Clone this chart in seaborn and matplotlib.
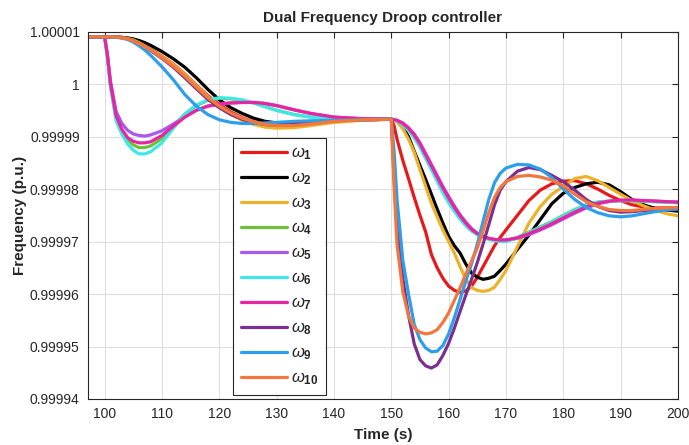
import matplotlib
matplotlib.use("Agg")
import matplotlib.pyplot as plt
import numpy as np
import pandas as pd
import seaborn as sns

# time axis (s)
time = [97, 100, 100.5, 101, 102, 103, 104, 105, 106, 107, 108, 110, 112, 114, 116, 118,
        120, 122, 124, 126, 128, 130, 133, 136, 140, 145,
        150, 150.5, 151, 152, 153, 154, 155, 156, 157, 158, 159, 160, 161, 162, 163, 164,
        165, 166, 167, 168, 169, 170, 172, 174, 176, 178, 180, 182, 184, 186, 188, 190,
        192, 194, 196, 198, 200]

# frequency deviation from 1 p.u., in units of 1e-5 p.u.
w1 = [.9, .9, .9, .9, .9, .89, .87, .84, .8, .74, .67, .53, .38, .19, -.02, -.22,
      -.39, -.53, -.64, -.72, -.77, -.79, -.79, -.76, -.71, -.68,
      -.67, -.8, -1.05, -1.45, -1.8, -2.16, -2.5, -2.82, -3.25, -3.5, -3.7, -3.85, -3.93, -3.97, -3.94, -3.85,
      -3.68, -3.48, -3.28, -3.08, -2.92, -2.78, -2.5, -2.22, -2.02, -1.9, -1.85, -1.84, -1.9, -2.0, -2.12, -2.22,
      -2.3, -2.34, -2.36, -2.36, -2.35]
w2 = [.9, .9, .9, .9, .9, .89, .88, .86, .83, .79, .74, .62, .48, .32, .12, -.1,
      -.3, -.45, -.56, -.65, -.71, -.74, -.75, -.73, -.7, -.68,
      -.67, -.68, -.7, -.82, -1.0, -1.28, -1.55, -1.82, -2.1, -2.38, -2.65, -2.9, -3.08, -3.22, -3.43, -3.6,
      -3.68, -3.72, -3.7, -3.66, -3.55, -3.43, -3.15, -2.88, -2.58, -2.28, -2.08, -1.97, -1.9, -1.87, -1.92, -2.05,
      -2.2, -2.3, -2.37, -2.4, -2.42]
w3 = [.9, .9, .9, .9, .9, .89, .87, .84, .79, .73, .66, .52, .37, .18, -.03, -.24,
      -.42, -.57, -.69, -.77, -.82, -.84, -.83, -.79, -.73, -.69,
      -.67, -.68, -.72, -.85, -1.05, -1.3, -1.63, -1.95, -2.27, -2.53, -2.78, -3.0, -3.22, -3.48, -3.72, -3.88,
      -3.93, -3.95, -3.93, -3.87, -3.72, -3.55, -3.1, -2.65, -2.33, -2.1, -1.95, -1.8, -1.76, -1.84, -1.97, -2.1,
      -2.22, -2.32, -2.4, -2.47, -2.51]
w4 = [.9, .9, .52, 0, -.65, -.9, -1.06, -1.16, -1.21, -1.21, -1.18, -1.04, -.8, -.57, -.41, -.31,
      -.27, -.28, -.31, -.36, -.43, -.5, -.58, -.63, -.66, -.67,
      -.67, -.68, -.7, -.77, -.87, -1.0, -1.18, -1.4, -1.61, -1.83, -2.05, -2.24, -2.41, -2.56, -2.69, -2.79,
      -2.86, -2.91, -2.95, -2.97, -2.99, -2.99, -2.92, -2.82, -2.72, -2.62, -2.5, -2.39, -2.3, -2.25, -2.23, -2.22,
      -2.22, -2.23, -2.24, -2.25, -2.26]
w5 = [.9, .9, .56, .07, -.52, -.75, -.88, -.95, -.98, -.99, -.97, -.89, -.76, -.62, -.5, -.42,
      -.38, -.36, -.35, -.35, -.37, -.41, -.49, -.56, -.63, -.66,
      -.67, -.68, -.69, -.74, -.83, -.95, -1.12, -1.32, -1.53, -1.74, -1.95, -2.14, -2.32, -2.49, -2.63, -2.75,
      -2.84, -2.9, -2.94, -2.96, -2.97, -2.97, -2.94, -2.87, -2.78, -2.68, -2.57, -2.46, -2.36, -2.28, -2.24, -2.22,
      -2.21, -2.22, -2.23, -2.24, -2.25]
w6 = [.9, .9, .5, -.05, -.7, -.95, -1.14, -1.26, -1.33, -1.33, -1.29, -1.12, -.84, -.57, -.4, -.3,
      -.26, -.27, -.3, -.36, -.43, -.5, -.58, -.63, -.66, -.67,
      -.67, -.68, -.7, -.78, -.88, -1.02, -1.2, -1.42, -1.63, -1.85, -2.07, -2.26, -2.42, -2.57, -2.7, -2.8,
      -2.87, -2.92, -2.96, -2.98, -3.0, -3.0, -2.93, -2.83, -2.73, -2.63, -2.51, -2.4, -2.3, -2.25, -2.23, -2.22,
      -2.22, -2.23, -2.24, -2.25, -2.26]
w7 = [.9, .9, .54, .03, -.6, -.86, -1.02, -1.09, -1.12, -1.12, -1.1, -.98, -.8, -.63, -.5, -.42,
      -.38, -.36, -.35, -.35, -.37, -.41, -.49, -.56, -.63, -.66,
      -.67, -.68, -.69, -.75, -.84, -.97, -1.14, -1.35, -1.56, -1.77, -1.98, -2.17, -2.35, -2.51, -2.65, -2.77,
      -2.85, -2.9, -2.94, -2.96, -2.97, -2.97, -2.93, -2.85, -2.76, -2.66, -2.55, -2.44, -2.34, -2.27, -2.23, -2.21,
      -2.21, -2.22, -2.23, -2.24, -2.25]
w8 = [.9, .9, .9, .9, .9, .88, .86, .82, .77, .71, .64, .49, .32, .12, -.09, -.29,
      -.45, -.58, -.67, -.73, -.77, -.78, -.77, -.74, -.7, -.68,
      -.67, -1.8, -2.75, -3.7, -4.4, -4.95, -5.25, -5.37, -5.41, -5.35, -5.17, -4.94, -4.65, -4.33, -4.02, -3.72,
      -3.4, -3.05, -2.68, -2.3, -2.02, -1.86, -1.66, -1.59, -1.63, -1.74, -1.86, -2.02, -2.2, -2.33, -2.41, -2.44,
      -2.43, -2.41, -2.4, -2.39, -2.38]
w9 = [.9, .9, .9, .9, .89, .88, .85, .8, .73, .65, .55, .33, .08, -.2, -.42, -.58,
      -.68, -.73, -.75, -.75, -.74, -.73, -.71, -.7, -.69, -.68,
      -.67, -1.3, -2.2, -3.35, -4.0, -4.58, -4.87, -5.03, -5.1, -5.09, -4.98, -4.76, -4.45, -4.1, -3.75, -3.42,
      -3.05, -2.62, -2.2, -1.88, -1.7, -1.6, -1.53, -1.54, -1.62, -1.78, -2.0, -2.2, -2.35, -2.45, -2.51, -2.53,
      -2.51, -2.47, -2.43, -2.4, -2.38]
w10 = [.9, .9, .9, .9, .9, .88, .86, .82, .77, .71, .65, .5, .34, .15, -.06, -.26,
       -.42, -.55, -.65, -.72, -.77, -.79, -.79, -.76, -.71, -.68,
       -.67, -2.0, -3.05, -3.95, -4.42, -4.65, -4.73, -4.76, -4.74, -4.68, -4.54, -4.36, -4.12, -3.88, -3.62, -3.37,
       -3.12, -2.8, -2.45, -2.16, -1.97, -1.86, -1.76, -1.74, -1.77, -1.83, -1.94, -2.1, -2.24, -2.33, -2.39, -2.41,
       -2.41, -2.39, -2.37, -2.36, -2.35]

series = [w1, w2, w3, w4, w5, w6, w7, w8, w9, w10]
labels = [r'$\omega_{\mathbf{%d}}$' % i for i in range(1, 11)]
colors = ['#E8191B', '#000000', '#EDB12A', '#6CC13A', '#A957F0',
          '#3EE8E6', '#E626A0', '#7B2F8E', '#2C9EEC', '#F0783F']

yticks = [0.99994, 0.99995, 0.99996, 0.99997, 0.99998, 0.99999, 1.0, 1.00001]
ytick_labels = ['0.99994', '0.99995', '0.99996', '0.99997', '0.99998', '0.99999', '1', '1.00001']
xticks = [100, 110, 120, 130, 140, 150, 160, 170, 180, 190, 200]

rows = []
for lab, dev in zip(labels, series):
    for t, d in zip(time, dev):
        rows.append([t, 1.0 + d * 1e-5, lab])
data = pd.DataFrame(rows, columns=['time', 'freq', 'key'])

sns.set_theme(style="whitegrid")
plt.rcParams['font.family'] = ['Liberation Sans', 'DejaVu Sans']
plt.rcParams['mathtext.fontset'] = 'custom'
plt.rcParams['mathtext.it'] = 'Liberation Sans:italic'
plt.rcParams['mathtext.bf'] = 'Liberation Sans:bold'
plt.rcParams['mathtext.rm'] = 'Liberation Sans'

fig = plt.figure(figsize=(6.89, 4.45), dpi=100)
ax = fig.add_axes([0.1277, 0.1034, 0.8563, 0.8256])

sns.lineplot(data=data, x='time', y='freq', hue='key', palette=colors,
             linewidth=2.3, estimator=None, sort=False, legend=False, ax=ax)

ax.set_xlim(97.1, 200)
ax.set_ylim(0.99994, 1.00001)
ax.set_xticks(xticks)
ax.set_yticks(yticks)
ax.set_yticklabels(ytick_labels)
ax.grid(True, color='#dedede', linewidth=0.8)
for s in ax.spines.values():
    s.set_color('#262626')
    s.set_linewidth(0.8)
ax.tick_params(direction='in', length=4, width=0.8, color='#262626',
               top=True, right=True, labelsize=10, labelcolor='#262626', pad=6)

ax.set_title('Dual Frequency Droop controller', fontsize=11, fontweight='bold', pad=7)
ax.set_xlabel('Time (s)', fontsize=11, fontweight='bold', labelpad=5)
ax.set_ylabel('Frequency (p.u.)', fontsize=11, fontweight='bold', labelpad=2)

leg = ax.legend(ax.get_lines()[:10], labels, loc='lower left',
                bbox_to_anchor=(0.2458, 0.011), fontsize=12, frameon=True,
                fancybox=False, framealpha=1, edgecolor='#262626',
                handlelength=2.8, handletextpad=0.25, labelspacing=0.5,
                borderpad=0.45, borderaxespad=0)
leg.get_frame().set_linewidth(0.8)

fig.savefig('out.png', dpi=100)
